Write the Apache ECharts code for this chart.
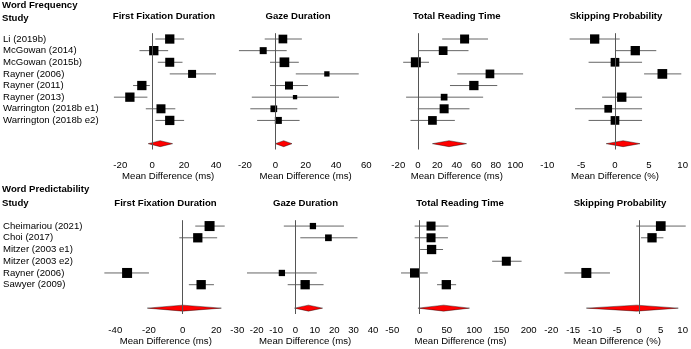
<!DOCTYPE html>
<html>
<head>
<meta charset="utf-8">
<script src="https://cdn.jsdelivr.net/npm/echarts@6/dist/echarts.min.js"></script>
<style>
  html, body { margin: 0; background: #fff; }
  #chart { width: 691px; height: 349px; }
</style>
</head>
<body>
<div id="chart"></div>
<script>
// ---- data ----
const freqStudies = ['Li (2019b)', 'McGowan (2014)', 'McGowan (2015b)', 'Rayner (2006)',
  'Rayner (2011)', 'Rayner (2013)', 'Warrington (2018b e1)', 'Warrington (2018b e2)'];
const predStudies = ['Cheimariou (2021)', 'Choi (2017)', 'Mitzer (2003 e1)', 'Mitzer (2003 e2)',
  'Rayner (2006)', 'Sawyer (2009)'];

const measures = ['First Fixation Duration', 'Gaze Duration', 'Total Reading Time', 'Skipping Probability'];
const axisNames = ['Mean Difference (ms)', 'Mean Difference (ms)', 'Mean Difference (ms)', 'Mean Difference (%)'];

// [estimate, lower CI, upper CI, relative weight]; null = study not in that analysis
const freqFFD = [[11, 2, 20, .93], [1, -8, 10, .93], [11, 3.5, 19, .9], [25, 11, 40, .8],
  [-6.5, -12, -1.5, .93], [-14, -24, -3, .93], [5.5, -4, 14.5, .9], [11, 2, 20, .93]];
const freqGD = [[5, -7, 17.5, .87], [-8, -24, 7.5, .7], [6, -3.5, 15.5, .97], [34, 13.5, 55, .53],
  [9, -3.5, 21.5, .8], [13, -15.5, 42, .43], [-1, -16.5, 14.5, .67], [2, -12, 16, .7]];
const freqTRT = [[48, 25, 72, .9], [26, 0.5, 52, .87], [-2, -15, 11.5, 1], [74, 40.5, 108, .87],
  [57.5, 33, 81.5, .93], [27, -12, 67, .67], [27, 0, 53, .9], [15, -7.5, 38, .87]];
const freqSP = [[-3, -6.7, 0.7, .93], [3, 0, 6.1, .93], [0, -3.9, 4, .87], [7, 4.3, 9.8, .97],
  null, [1, -1.9, 4, .93], [-1, -5.9, 4, .77], [0, -3.9, 4, .87]];

const predFFD = [[16, 7.5, 25, 1], [9, -2, 20.5, .93], null, null, [-33, -46.5, -20, 1], [11, 3.7, 18.6, .93]];
const predGD = [[9, -6, 25, .63], [17, 2.5, 32, .67], null, null, [-7, -25, 11, .63], [5, -4, 14.5, .93]];
const predTRT = [[21, -9, 53, .9], [21, -9, 52, .9], [22, 1, 43, .93], [159, 133, 187, .9],
  [-9, -34, 15, .93], [49, 32, 67, .93]];
const predSP = [[5, -0.6, 10.7, .97], [3, 0.5, 5.6, .93], null, null, [-12, -17, -6.6, 1], null];

// pooled (random effects) [estimate, lower, upper]
const freqRE = [[5, -2.5, 12.8], [5.5, 0, 11], [32, 15, 50], [1.2, -1.3, 3.7]];
const predRE = [[0, -21, 23], [6.7, -0.5, 14], [44, -3, 91.5], [-0.5, -12, 9]];

// axis [min, max, interval]
const freqTicks = [[-20, 40, 20], [-20, 60, 20], [-20, 100, 20], [-10, 10, 5]];
const predTicks = [[-40, 20, 20], [-30, 40, 10], [-50, 200, 50], [-20, 10, 5]];

// ---- layout ----
const FONT = 'Liberation Sans, Arial, sans-serif';
const FS = 9.6;
const BOX = 10;

const sections = [
  {
    heading: 'Word Frequency', headY: 5, studyY: 18.7, titleY: 16,
    top: 33.2, height: 116.3,
    lefts: [119.3, 245, 398.3, 547.3], widths: [96.7, 121.3, 117, 137],
    titleX: [164, 298, 456.7, 616],
    studies: freqStudies, panels: [freqFFD, freqGD, freqTRT, freqSP], re: freqRE, ticks: freqTicks
  },
  {
    heading: 'Word Predictability', headY: 189.3, studyY: 203.3, titleY: 203.3,
    top: 220.2, height: 93.8,
    lefts: [114.3, 237.3, 392.3, 551.3], widths: [102, 135.7, 136.4, 133],
    titleX: [165.5, 305.5, 460, 620],
    studies: predStudies, panels: [predFFD, predGD, predTRT, predSP], re: predRE, ticks: predTicks
  }
];

const grid = [], xAxis = [], yAxis = [], series = [], texts = [];

function txt(text, x, y, align, bold) {
  return {
    type: 'text', x: x, y: y, silent: true,
    style: {
      text: text, fill: '#000', font: (bold ? 'bold ' : '') + FS + 'px ' + FONT,
      align: align, textAlign: align, verticalAlign: 'middle', textVerticalAlign: 'middle'
    }
  };
}

function renderStudy(params, api) {
  const r = api.value(0);
  const c = api.coord([api.value(1), r]);
  const a = api.coord([api.value(2), r]);
  const b = api.coord([api.value(3), r]);
  const s = BOX * api.value(4);
  return {
    type: 'group',
    children: [
      { type: 'line', shape: { x1: a[0], y1: c[1], x2: b[0], y2: c[1] }, style: { stroke: '#666', lineWidth: 1 } },
      { type: 'rect', shape: { x: c[0] - s / 2, y: c[1] - s / 2, width: s, height: s }, style: { fill: '#000' } }
    ]
  };
}

function renderDiamond(params, api) {
  const r = api.value(0);
  const c = api.coord([api.value(1), r]);
  const a = api.coord([api.value(2), r]);
  const b = api.coord([api.value(3), r]);
  const h = 3;
  return {
    type: 'polygon',
    shape: { points: [[a[0], c[1]], [c[0], c[1] - h], [b[0], c[1]], [c[0], c[1] + h]] },
    style: { fill: '#ff0000', stroke: '#000', lineWidth: 0.4 }
  };
}

sections.forEach((sec, si) => {
  const rows = sec.studies.concat(['', '']);
  const reRow = rows.length - 1;
  texts.push(txt(sec.heading, 2, sec.headY, 'left', true));
  texts.push(txt('Study', 2, sec.studyY, 'left', true));

  sec.panels.forEach((panel, pi) => {
    const g = si * 4 + pi;
    const [min, max, step] = sec.ticks[pi];
    texts.push(txt(measures[pi], sec.titleX[pi], sec.titleY, 'center', true));

    grid.push({ left: sec.lefts[pi], top: sec.top, width: sec.widths[pi], height: sec.height });
    xAxis.push({
      gridIndex: g, type: 'value', min: min, max: max, interval: step,
      axisLine: { lineStyle: { color: '#000', width: 1 } },
      axisTick: { length: 5, lineStyle: { color: '#000', width: 1 } },
      axisLabel: { color: '#000', fontSize: FS, fontFamily: FONT, margin: 11 },
      splitLine: { show: false },
      name: axisNames[pi], nameLocation: 'middle', nameGap: 21,
      nameTextStyle: { color: '#000', fontSize: FS, fontFamily: FONT }
    });
    yAxis.push({
      gridIndex: g, type: 'category', inverse: true, data: rows,
      axisLine: { show: false }, axisTick: { show: false }, splitLine: { show: false },
      axisLabel: pi === 0
        ? { show: true, align: 'left', margin: sec.lefts[pi] - 2, color: '#000', fontSize: FS, fontFamily: FONT, interval: 0 }
        : { show: false }
    });

    const pts = [];
    panel.forEach((d, r) => { if (d) pts.push([r, d[0], d[1], d[2], d[3]]); });

    series.push({
      type: 'custom', xAxisIndex: g, yAxisIndex: g, z: 2,
      renderItem: renderStudy, encode: { x: [1, 2, 3], y: 0 }, data: pts,
      markLine: {
        silent: true, symbol: ['none', 'none'], label: { show: false },
        lineStyle: { color: '#555', width: 1, type: 'solid' },
        data: [{ xAxis: 0 }]
      }
    });
    const re = sec.re[pi];
    series.push({
      type: 'custom', xAxisIndex: g, yAxisIndex: g, z: 3,
      renderItem: renderDiamond, encode: { x: [1, 2, 3], y: 0 },
      data: [[reRow, re[0], re[1], re[2]]]
    });
  });
});

const chart = echarts.init(document.getElementById('chart'));
chart.setOption({
  backgroundColor: '#fff',
  animation: false,
  grid: grid,
  xAxis: xAxis,
  yAxis: yAxis,
  series: series,
  graphic: { elements: texts }
});
</script>
</body>
</html>
